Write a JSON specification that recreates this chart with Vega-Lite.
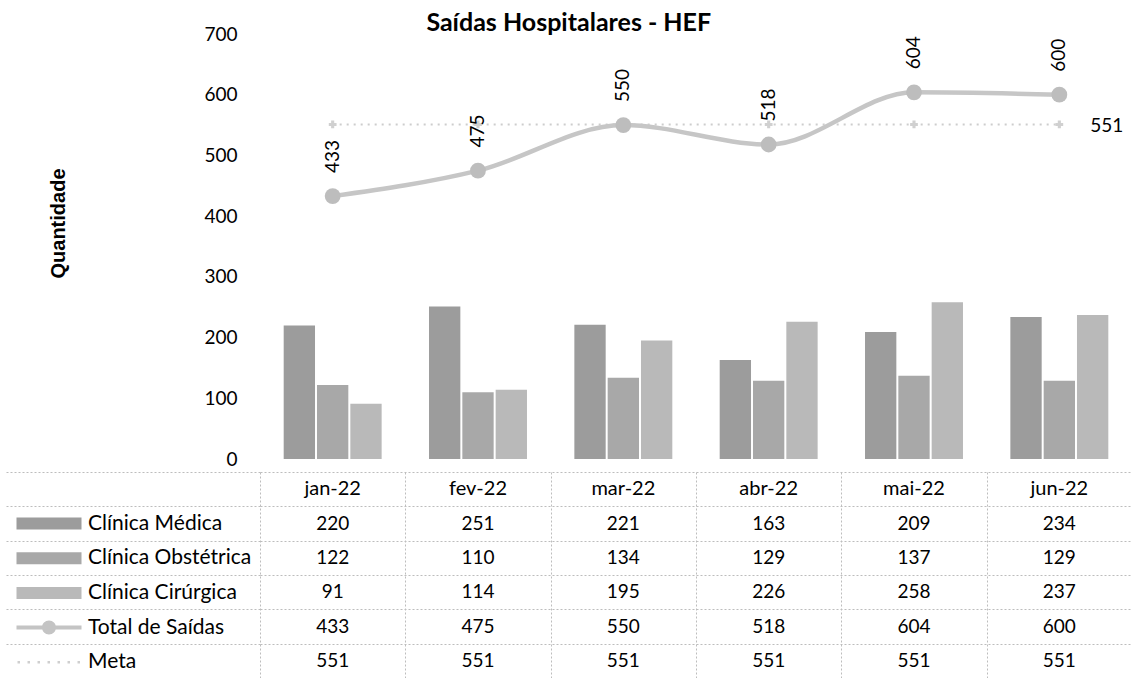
{
  "$schema": "https://vega.github.io/schema/vega-lite/v6.json",
  "padding": {"left": 5, "top": 11, "right": 0, "bottom": 0},
  "bounds": "flush",
  "spacing": 13,
  "config": {
    "font": "Lato",
    "view": {"stroke": null},
    "axis": {"labelColor": "#000000", "titleColor": "#000000", "labelFont": "Lato"},
    "text": {"font": "Lato"},
    "legend": {
      "orient": "none",
      "legendX": -249,
      "legendY": 479,
      "title": null,
      "labelFontSize": 21,
      "labelFont": "Lato",
      "labelColor": "#000000",
      "labelOffset": 56,
      "labelLimit": 400,
      "symbolSize": 100,
      "symbolStrokeWidth": 0,
      "rowPadding": 12.7
    }
  },
  "title": {
    "text": "Saídas Hospitalares - HEF",
    "font": "Lato",
    "fontSize": 25,
    "fontWeight": "bold",
    "color": "#000000",
    "anchor": "middle",
    "offset": -11
  },
  "datasets": {
    "d": [
      {"mes": "jan-22", "serie": "Clínica Médica", "valor": 220},
      {"mes": "fev-22", "serie": "Clínica Médica", "valor": 251},
      {"mes": "mar-22", "serie": "Clínica Médica", "valor": 221},
      {"mes": "abr-22", "serie": "Clínica Médica", "valor": 163},
      {"mes": "mai-22", "serie": "Clínica Médica", "valor": 209},
      {"mes": "jun-22", "serie": "Clínica Médica", "valor": 234},
      {"mes": "jan-22", "serie": "Clínica Obstétrica", "valor": 122},
      {"mes": "fev-22", "serie": "Clínica Obstétrica", "valor": 110},
      {"mes": "mar-22", "serie": "Clínica Obstétrica", "valor": 134},
      {"mes": "abr-22", "serie": "Clínica Obstétrica", "valor": 129},
      {"mes": "mai-22", "serie": "Clínica Obstétrica", "valor": 137},
      {"mes": "jun-22", "serie": "Clínica Obstétrica", "valor": 129},
      {"mes": "jan-22", "serie": "Clínica Cirúrgica", "valor": 91},
      {"mes": "fev-22", "serie": "Clínica Cirúrgica", "valor": 114},
      {"mes": "mar-22", "serie": "Clínica Cirúrgica", "valor": 195},
      {"mes": "abr-22", "serie": "Clínica Cirúrgica", "valor": 226},
      {"mes": "mai-22", "serie": "Clínica Cirúrgica", "valor": 258},
      {"mes": "jun-22", "serie": "Clínica Cirúrgica", "valor": 237},
      {"mes": "jan-22", "serie": "Total de Saídas", "valor": 433},
      {"mes": "fev-22", "serie": "Total de Saídas", "valor": 475},
      {"mes": "mar-22", "serie": "Total de Saídas", "valor": 550},
      {"mes": "abr-22", "serie": "Total de Saídas", "valor": 518},
      {"mes": "mai-22", "serie": "Total de Saídas", "valor": 604},
      {"mes": "jun-22", "serie": "Total de Saídas", "valor": 600},
      {"mes": "jan-22", "serie": "Meta", "valor": 551},
      {"mes": "fev-22", "serie": "Meta", "valor": 551},
      {"mes": "mar-22", "serie": "Meta", "valor": 551},
      {"mes": "abr-22", "serie": "Meta", "valor": 551},
      {"mes": "mai-22", "serie": "Meta", "valor": 551},
      {"mes": "jun-22", "serie": "Meta", "valor": 551}
    ]
  },
  "vconcat": [
    {
      "width": 872,
      "height": 425,
      "data": {"name": "d"},
      "encoding": {
        "x": {
          "field": "mes",
          "type": "nominal",
          "sort": ["jan-22", "fev-22", "mar-22", "abr-22", "mai-22", "jun-22"],
          "scale": {"paddingInner": 0.326, "paddingOuter": 0.163},
          "axis": null
        },
        "y": {
          "field": "valor",
          "type": "quantitative",
          "scale": {"domain": [0, 700], "nice": false},
          "axis": {
            "values": [0, 100, 200, 300, 400, 500, 600, 700],
            "domain": false,
            "ticks": false,
            "grid": false,
            "labelFontSize": 19,
            "labelPadding": 23,
            "labelOffset": 0,
            "title": "Quantidade",
            "titleFont": "Liberation Sans",
            "titleFontSize": 20,
            "titleFontWeight": "bold",
            "titlePadding": 135,
            "titleY": 189
          }
        }
      },
      "layer": [
        {
          "transform": [{"filter": "indexof(['Clínica Médica','Clínica Obstétrica','Clínica Cirúrgica'], datum.serie) >= 0"}],
          "mark": {"type": "bar"},
          "encoding": {
            "xOffset": {
              "field": "serie",
              "type": "nominal",
              "sort": ["Clínica Médica", "Clínica Obstétrica", "Clínica Cirúrgica"],
              "scale": {"paddingInner": 0.06}
            },
            "color": {
              "field": "serie",
              "type": "nominal",
              "scale": {
                "domain": ["Clínica Médica", "Clínica Obstétrica", "Clínica Cirúrgica", "Total de Saídas", "Meta"],
                "range": ["#9c9c9c", "#a8a8a8", "#b9b9b9", "#c4c4c4", "#cfcfcf"]
              }
            }
          }
        },
        {
          "transform": [{"filter": "datum.serie === 'Meta'"}],
          "mark": {"type": "line", "color": "#cdcdcd", "strokeWidth": 2, "strokeDash": [2, 5]}
        },
        {
          "transform": [{"filter": "datum.serie === 'Meta'"}],
          "mark": {"type": "point", "shape": "cross", "filled": true, "color": "#d0d0d0", "size": 60, "opacity": 1}
        },
        {
          "transform": [{"filter": "datum.serie === 'Meta' && datum.mes === 'jun-22'"}],
          "mark": {"type": "text", "align": "left", "baseline": "middle", "dx": 31, "dy": 2, "fontSize": 19, "color": "#000000"},
          "encoding": {"text": {"field": "valor", "type": "quantitative"}}
        },
        {
          "transform": [{"filter": "datum.serie === 'Total de Saídas'"}],
          "mark": {"type": "line", "color": "#c6c6c6", "strokeWidth": 4.5, "interpolate": "monotone"}
        },
        {
          "transform": [{"filter": "datum.serie === 'Total de Saídas'"}],
          "mark": {"type": "point", "shape": "circle", "filled": true, "color": "#bdbdbd", "size": 250, "opacity": 1}
        },
        {
          "transform": [{"filter": "datum.serie === 'Total de Saídas'"}],
          "mark": {"type": "text", "angle": 270, "align": "left", "baseline": "middle", "dx": 23, "fontSize": 19, "color": "#000000"},
          "encoding": {"text": {"field": "valor", "type": "quantitative"}}
        },
        {
          "transform": [{"filter": "false"}],
          "mark": {"type": "point", "filled": true, "opacity": 1},
          "encoding": {
            "color": {
              "field": "serie",
              "type": "nominal",
              "scale": {
                "domain": ["Clínica Médica", "Clínica Obstétrica", "Clínica Cirúrgica", "Total de Saídas", "Meta"],
                "range": ["#9c9c9c", "#a8a8a8", "#b9b9b9", "#c4c4c4", "#cfcfcf"]
              }
            },
            "shape": {
              "field": "serie",
              "type": "nominal",
              "scale": {
                "domain": ["Clínica Médica", "Clínica Obstétrica", "Clínica Cirúrgica", "Total de Saídas", "Meta"],
                "range": [
                  "M-1,-1.2H12V1.2H-1Z",
                  "M-1,-1.2H12V1.2H-1Z",
                  "M-1,-1.2H12V1.2H-1Z",
                  "M-1,-0.4H12V0.4H-1Z M6.9,0A1.4,1.4 0 1 1 4.1,0A1.4,1.4 0 1 1 6.9,0Z",
                  "M-0.8,-0.25h0.5v0.5h-0.5Z M1.2,-0.25h0.5v0.5h-0.5Z M3.2,-0.25h0.5v0.5h-0.5Z M5.2,-0.25h0.5v0.5h-0.5Z M7.2,-0.25h0.5v0.5h-0.5Z M9.2,-0.25h0.5v0.5h-0.5Z M11.2,-0.25h0.5v0.5h-0.5Z"
                ]
              }
            }
          }
        }
      ]
    },
    {
      "width": 872,
      "height": 206,
      "data": {"name": "d"},
      "encoding": {
        "x": {
          "field": "mes",
          "type": "nominal",
          "sort": ["jan-22", "fev-22", "mar-22", "abr-22", "mai-22", "jun-22"],
          "scale": {"paddingInner": 0, "paddingOuter": 0},
          "axis": {
            "orient": "top",
            "labels": false,
            "ticks": false,
            "domain": false,
            "grid": true,
            "tickBand": "extent",
            "gridColor": "#bdbdbd",
            "gridDash": [2, 2],
            "gridWidth": 1,
            "title": null
          }
        }
      },
      "layer": [
        {
          "transform": [{"filter": "datum.serie === 'Meta'"}],
          "mark": {"type": "text", "fontSize": 20, "baseline": "middle", "color": "#000000"},
          "encoding": {
            "y": {
              "datum": " ",
              "type": "nominal",
              "scale": {"domain": [" ", "Clínica Médica", "Clínica Obstétrica", "Clínica Cirúrgica", "Total de Saídas", "Meta"], "paddingInner": 0, "paddingOuter": 0},
              "axis": {
                "labels": false,
                "domain": false,
                "ticks": true,
                "tickBand": "extent",
                "tickSize": 254,
                "tickColor": "#bdbdbd",
                "tickDash": [2, 2],
                "grid": true,
                "gridColor": "#bdbdbd",
                "gridDash": [2, 2],
                "title": null
              }
            },
            "text": {"field": "mes", "type": "nominal"}
          }
        },
        {
          "mark": {"type": "text", "fontSize": 19, "baseline": "middle", "color": "#000000"},
          "encoding": {
            "y": {
              "field": "serie",
              "type": "nominal",
              "scale": {"domain": [" ", "Clínica Médica", "Clínica Obstétrica", "Clínica Cirúrgica", "Total de Saídas", "Meta"], "paddingInner": 0, "paddingOuter": 0}
            },
            "text": {"field": "valor", "type": "quantitative"}
          }
        }
      ]
    }
  ]
}
